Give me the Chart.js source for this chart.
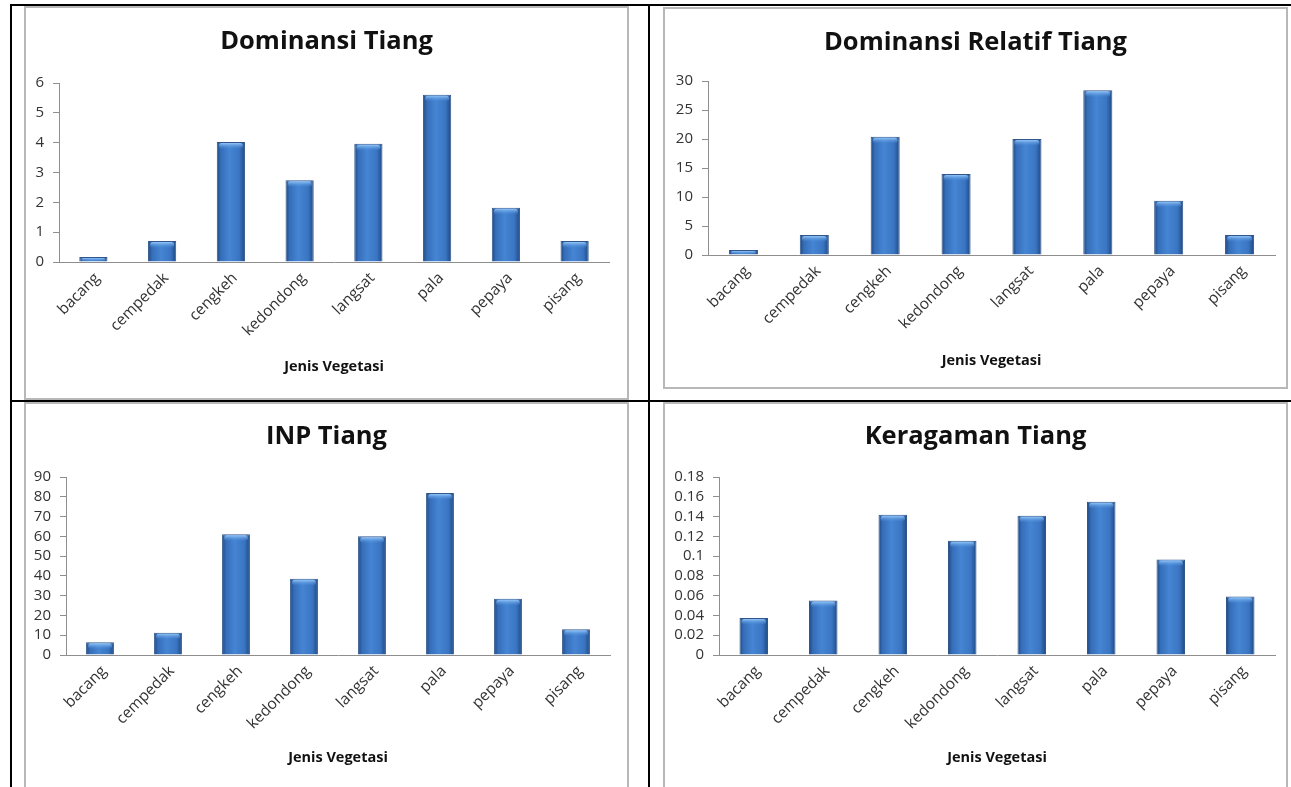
<!DOCTYPE html>
<html><head><meta charset="utf-8">
<script src="https://cdn.jsdelivr.net/npm/chart.js@4.4.1/dist/chart.umd.min.js"></script>
<style>
html,body{margin:0;padding:0;background:#fff;width:1291px;height:787px;overflow:hidden;position:relative;}
.bl{position:absolute;background:#000;}
.box{position:absolute;border:2px solid #b8b8b8;box-sizing:border-box;background:#fff;}
canvas{position:absolute;}
</style></head><body>
<div class="bl" style="left:10px;top:4px;width:1281px;height:2px"></div>
<div class="bl" style="left:10px;top:4px;width:2px;height:783px"></div>
<div class="bl" style="left:648px;top:4px;width:2px;height:783px"></div>
<div class="bl" style="left:10px;top:400px;width:1281px;height:2px"></div>
<div id="b1" class="box"></div><div id="b2" class="box"></div><div id="b3" class="box"></div><div id="b4" class="box"></div>
<canvas id="c1"></canvas><canvas id="c2"></canvas><canvas id="c3"></canvas><canvas id="c4"></canvas>
<script>
// ---- data ----
const categories = ['bacang','cempedak','cengkeh','kedondong','langsat','pala','pepaya','pisang'];
const dominansiValues = [0.17, 0.70, 4.02, 2.74, 3.96, 5.61, 1.82, 0.70];
const dominansiRelatifValues = [0.86, 3.45, 20.4, 13.97, 20.0, 28.4, 9.37, 3.45];
const inpValues = [6.4, 11.3, 61.0, 38.5, 60.0, 81.9, 28.4, 13.0];
const keragamanValues = [0.0375, 0.055, 0.1418, 0.1155, 0.1408, 0.155, 0.0966, 0.0591];
const dominansiTicks = [0,1,2,3,4,5,6];
const dominansiRelatifTicks = [0,5,10,15,20,25,30];
const inpTicks = [0,10,20,30,40,50,60,70,80,90];
const keragamanTicks = [0,0.02,0.04,0.06,0.08,0.1,0.12,0.14,0.16,0.18];
const titles = ['Dominansi Tiang','Dominansi Relatif Tiang','INP Tiang','Keragaman Tiang'];
const xAxisTitle = 'Jenis Vegetasi';

// ---- style / layout ----
const FONT = "'Open Sans', sans-serif";
const BAR_PCT = 0.41;
Chart.defaults.font.family = FONT;
Chart.defaults.animation = false;

function barFill(ctx){
  const chart = ctx.chart;
  const xs = chart.scales && chart.scales.x;
  if (!xs || ctx.type !== 'data' || !chart.chartArea) return '#3a78c6';
  const n = chart.data.labels.length;
  const w = (xs.right - xs.left) / n * BAR_PCT;
  const cx = xs.getPixelForValue(ctx.dataIndex);
  const g = chart.ctx.createLinearGradient(cx - w/2, 0, cx + w/2, 0);
  g.addColorStop(0, '#1c4780');
  g.addColorStop(0.14, '#356db8');
  g.addColorStop(0.45, '#4585d3');
  g.addColorStop(0.8, '#3a75c2');
  g.addColorStop(1, '#1d4882');
  return g;
}

const capPlugin = {
  id: 'cap',
  afterDatasetsDraw(chart){
    const c = chart.ctx;
    chart.getDatasetMeta(0).data.forEach(el => {
      const p = el.getProps(['x','y','width','base'], true);
      const l = p.x - p.width/2, w = p.width;
      const h = Math.min(6, Math.abs(p.base - p.y) - 1);
      if (h <= 1) return;
      const g = c.createLinearGradient(0, p.y + 1, 0, p.y + 1 + h);
      g.addColorStop(0, 'rgba(150,200,250,0.95)');
      g.addColorStop(1, 'rgba(80,145,220,0.0)');
      c.save();
      c.fillStyle = g;
      c.beginPath();
      c.roundRect(l + 2, p.y + 1, w - 4, h, 3);
      c.fill();
      c.restore();
    });
  }
};

const titlePlugin = {
  id: 'ctitle',
  afterDraw(chart, args, o){
    const c = chart.ctx;
    c.save();
    c.font = 'bold ' + o.size + 'px ' + FONT;
    c.fillStyle = '#111';
    c.textAlign = 'center';
    c.textBaseline = 'middle';
    c.fillText(o.text, o.x, o.y);
    c.restore();
  }
};

function build(n, box, plot, title, titleCy, xTitleCy, values, ticks, fmt){
  const b = document.getElementById('b'+n);
  Object.assign(b.style, {left: box.x1+'px', top: box.y1+'px', width: (box.x2-box.x1)+'px', height: (box.y2-box.y1)+'px'});
  const bx = box.x1 + 2, by = box.y1 + 2;
  const W = box.x2 - box.x1 - 4, H = box.y2 - box.y1 - 4;
  const cv = document.getElementById('c'+n);
  Object.assign(cv.style, {left: bx+'px', top: by+'px', width: W+'px', height: H+'px'});
  cv.width = W; cv.height = H;
  const pl = plot.l - bx, pr = plot.r - bx, pt = plot.t - by, pb = plot.b - by;
  const padR = W - pr;
  const xFont = 14.5, xLH = xFont * 1.2;
  const xcy = xTitleCy - by;
  const xH = xcy - pb + xLH/2;
  const padBottom = H - pb - xH;
  new Chart(cv, {
    type: 'bar',
    data: { labels: categories, datasets: [{ data: values, backgroundColor: barFill, borderColor: 'rgba(28,68,125,0.9)', borderWidth: 1, barPercentage: BAR_PCT, categoryPercentage: 1 }] },
    options: {
      responsive: false,
      devicePixelRatio: 1,
      layout: { padding: { left: 0, right: padR, top: pt, bottom: padBottom } },
      plugins: {
        legend: { display: false },
        tooltip: { enabled: false },
        title: { display: false },
        ctitle: { text: title, size: 25.5, x: W/2, y: titleCy - by }
      },
      scales: {
        x: {
          grid: { display: false, drawTicks: false },
          border: { display: true, color: '#8e8e8e', width: 1 },
          ticks: { color: '#333', font: { size: 15.5 }, minRotation: 45, maxRotation: 45, autoSkip: false, padding: 7, labelOffset: 4 },
          title: { display: true, text: xAxisTitle, color: '#111', font: { size: xFont, weight: 'bold' }, padding: 0 },
          afterFit: s => { s.height = xH; }
        },
        y: {
          min: ticks[0], max: ticks[ticks.length-1],
          afterBuildTicks: s => { s.ticks = ticks.map(v => ({ value: v })); },
          grid: { display: true, drawOnChartArea: false, drawTicks: true, tickLength: 6, color: '#8e8e8e' },
          border: { display: true, color: '#8e8e8e', width: 1 },
          ticks: { color: '#333', font: { size: 15 }, padding: 9, autoSkip: false, callback: fmt },
          afterFit: s => { s.width = pl; }
        }
      }
    },
    plugins: [capPlugin, titlePlugin]
  });
}

const fmtInt = v => String(v);
const fmtDec = v => String(Number(v.toFixed(2)));
build(1, {x1:24,y1:6,x2:629,y2:400}, {l:59,r:609,t:83,b:262}, titles[0], 41.5, 367, dominansiValues, dominansiTicks, fmtInt);
build(2, {x1:663,y1:7,x2:1288,y2:389}, {l:708,r:1275,t:81,b:255}, titles[1], 43, 361, dominansiRelatifValues, dominansiRelatifTicks, fmtInt);
build(3, {x1:24,y1:402,x2:629,y2:800}, {l:66,r:610,t:477,b:655}, titles[2], 437, 758, inpValues, inpTicks, fmtInt);
build(4, {x1:663,y1:402,x2:1288,y2:800}, {l:719,r:1275,t:477,b:655}, titles[3], 437, 758, keragamanValues, keragamanTicks, fmtDec);
</script>
</body></html>
